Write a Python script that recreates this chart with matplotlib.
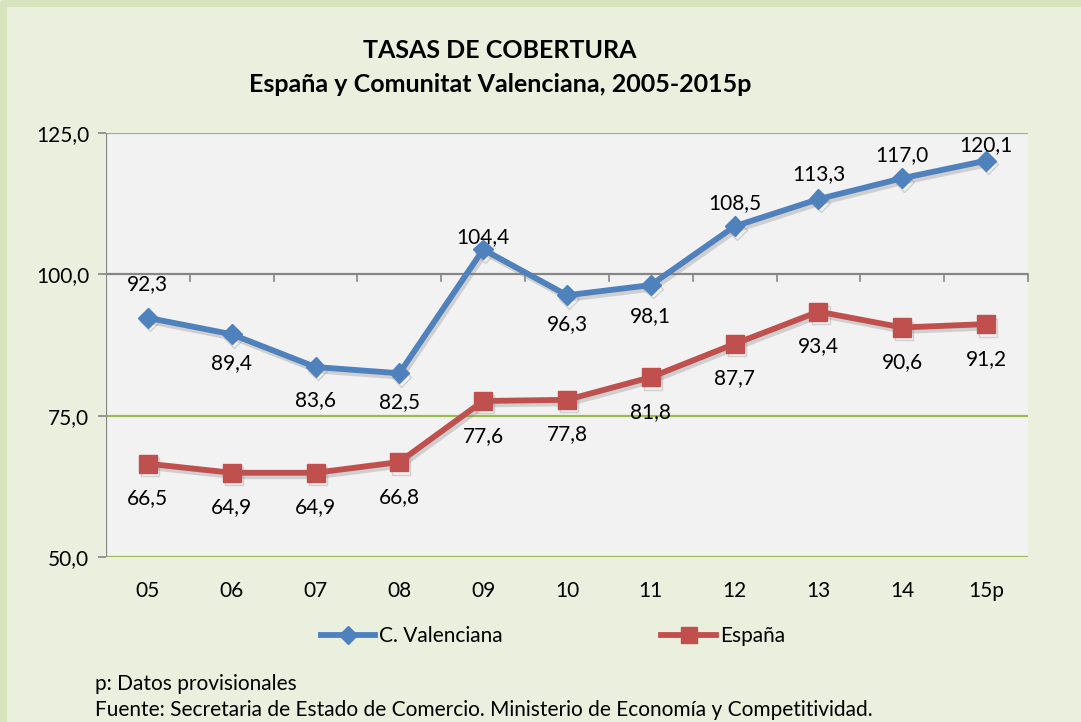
import matplotlib
matplotlib.use("Agg")
import matplotlib.pyplot as plt
import matplotlib.patheffects as pe
from matplotlib.lines import Line2D

plt.rcParams['font.family'] = ['Lato', 'DejaVu Sans']

# ---- data ----
categories = ["05", "06", "07", "08", "09", "10", "11", "12", "13", "14", "15p"]
valenciana = [92.3, 89.4, 83.6, 82.5, 104.4, 96.3, 98.1, 108.5, 113.3, 117.0, 120.1]
espana = [66.5, 64.9, 64.9, 66.8, 77.6, 77.8, 81.8, 87.7, 93.4, 90.6, 91.2]
yticks = [50, 75, 100, 125]
series_names = ["C. Valenciana", "España"]

# label offsets (points, vertical) - styling
val_offsets = [24, -21, -24, -21, 9, -21, -22, 17, 18, 17, 11]
esp_offsets = [-25] * len(espana)

BLUE = "#4F81BD"
RED = "#C0504D"
GREEN = "#9BBB59"
GRAY = "#868686"
FS = 15

fig = plt.figure(figsize=(10.81, 7.22), dpi=100)
fig.patch.set_facecolor("#EBF0DE")
# border on left/top
fig.add_artist(Line2D([0.0025, 0.0025, 1], [0, 0.996, 0.996], transform=fig.transFigure,
                      color="#D7E4BD", lw=5, zorder=0))

ax = fig.add_axes([106/1081, 1-557/722, (1028-106)/1081, (557-133)/722])
ax.set_facecolor("#F2F2F2")
x = list(range(len(categories)))
ax.set_xlim(-0.5, len(categories)-0.5)
ax.set_ylim(50, 125)

for s in ax.spines.values():
    s.set_visible(False)

# gridlines
for yv in yticks:
    if yv != 100:
        ax.axhline(yv, color=GREEN, lw=1.6, zorder=1)
# horizontal axis at 100
ax.axhline(100, color=GRAY, lw=1.6, zorder=1)
for b in [i - 0.5 for i in range(1, len(categories))] + [len(categories) - 0.5]:
    ax.plot([b, b], [100, 100 - 1.2], color=GRAY, lw=1.2, zorder=1, clip_on=False)
# left axis
ax.axvline(-0.5, color=GRAY, lw=1.6, zorder=1)

ax.set_yticks(yticks)
ax.set_yticklabels([f"{v:.1f}".replace(".", ",") for v in yticks])
ax.tick_params(axis="y", length=6, width=1.2, color=GRAY, labelsize=FS, pad=6)
ax.set_xticks(x)
ax.set_xticklabels(categories)
ax.tick_params(axis="x", length=0, labelsize=FS, pad=17)

shadow = [pe.SimpleLineShadow(offset=(1.5, -2.5), shadow_color="#808080", alpha=0.3), pe.Normal()]
l1, = ax.plot(x, valenciana, color=BLUE, lw=4.2, marker="D", ms=10, mec=BLUE,
              zorder=3, path_effects=shadow, solid_joinstyle="round")
l2, = ax.plot(x, espana, color=RED, lw=4.2, marker="s", ms=13, mec=RED,
              zorder=3, path_effects=shadow, solid_joinstyle="round")

for xi, v, off in zip(x, valenciana, val_offsets):
    ax.annotate(f"{v:.1f}".replace(".", ","), (xi, v), xytext=(0, off),
                textcoords="offset points", ha="center", va="center", fontsize=FS, zorder=4)
for xi, v, off in zip(x, espana, esp_offsets):
    ax.annotate(f"{v:.1f}".replace(".", ","), (xi, v), xytext=(0, off),
                textcoords="offset points", ha="center", va="center", fontsize=FS, zorder=4)

fig.text(0.4625, 1-50/722, "TASAS DE COBERTURA", ha="center", va="center",
         fontsize=18, fontweight="bold")
fig.text(0.4625, 1-85/722, "España y Comunitat Valenciana, 2005-2015p", ha="center",
         va="center", fontsize=18, fontweight="bold")

h1 = Line2D([], [], color=BLUE, lw=4.2, marker="D", ms=9)
h2 = Line2D([], [], color=RED, lw=4.2, marker="s", ms=12)
fig.legend([h1, h2], series_names, loc="center", bbox_to_anchor=(553/1081, 1-636/722),
           ncol=2, frameon=False, fontsize=FS, handlelength=2.6, handletextpad=0.2,
           columnspacing=7.6)

fig.text(95/1081, 1-684/722, "p: Datos provisionales", ha="left", va="center", fontsize=FS)
fig.text(95/1081, 1-710/722,
         "Fuente: Secretaria de Estado de Comercio. Ministerio de Economía y Competitividad.",
         ha="left", va="center", fontsize=FS)

fig.savefig("out.png", dpi=100, facecolor=fig.get_facecolor())
